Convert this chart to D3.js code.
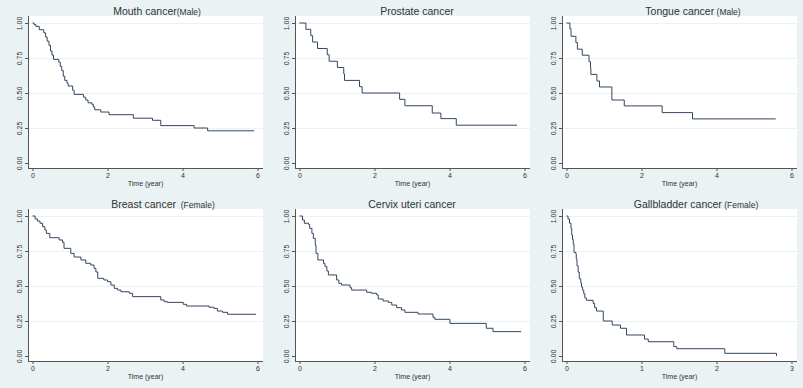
<!DOCTYPE html>
<html>
<head>
<meta charset="utf-8">
<script src="https://cdn.jsdelivr.net/npm/d3@7"></script>
<style>
  body { margin: 0; background: #eaf2f3; }
  svg { display: block; font-family: "Liberation Sans", Arial, sans-serif; }
</style>
</head>
<body>
<div id="container"></div>
<script>
// panel titles: main part + smaller note
const titles = ["Mouth cancer", "Prostate cancer", "Tongue cancer", "Breast cancer", "Cervix uteri cancer", "Gallbladder cancer"];
const notes = ["(Male)", "", " (Male)", "  (Female)", "", " (Female)"];
const titleCenters = [157, 150, 159, 163, 145, 162];

// Kaplan-Meier steps: [time, survival after drop]
const mouth = [[0.04,0.988],[0.09,0.976],[0.18,0.952],[0.30,0.93],[0.35,0.90],[0.39,0.87],[0.44,0.84],[0.48,0.80],[0.52,0.77],[0.56,0.74],[0.70,0.72],[0.74,0.69],[0.78,0.66],[0.82,0.62],[0.86,0.59],[0.92,0.57],[0.95,0.55],[1.07,0.52],[1.11,0.49],[1.36,0.47],[1.42,0.45],[1.48,0.43],[1.58,0.42],[1.62,0.40],[1.66,0.38],[1.82,0.364],[2.04,0.345],[2.69,0.32],[3.2,0.305],[3.42,0.267],[4.31,0.25],[4.67,0.23]];
const prostate = [[0.17,0.955],[0.30,0.91],[0.35,0.864],[0.48,0.818],[0.74,0.773],[0.79,0.727],[1.01,0.682],[1.18,0.636],[1.20,0.59],[1.60,0.545],[1.67,0.50],[2.67,0.455],[2.81,0.409],[3.54,0.357],[3.77,0.317],[4.18,0.27]];
const tongue = [[0.09,0.96],[0.12,0.905],[0.25,0.86],[0.29,0.813],[0.42,0.77],[0.60,0.723],[0.64,0.675],[0.65,0.633],[0.81,0.586],[0.88,0.543],[1.21,0.45],[1.54,0.408],[2.55,0.36],[3.36,0.315]];
const breast = [[0.07,0.979],[0.13,0.964],[0.20,0.948],[0.27,0.924],[0.33,0.90],[0.37,0.876],[0.46,0.845],[0.71,0.829],[0.80,0.812],[0.84,0.769],[1.02,0.733],[1.11,0.707],[1.29,0.686],[1.42,0.662],[1.55,0.65],[1.64,0.626],[1.69,0.60],[1.74,0.555],[1.90,0.543],[2.00,0.531],[2.09,0.507],[2.18,0.483],[2.27,0.471],[2.36,0.459],[2.58,0.448],[2.67,0.424],[3.42,0.40],[3.51,0.388],[3.60,0.383],[4.02,0.369],[4.11,0.357],[4.71,0.348],[4.84,0.340],[4.93,0.321],[5.07,0.312],[5.20,0.298]];
const cervix = [[0.08,0.971],[0.13,0.948],[0.24,0.94],[0.27,0.912],[0.33,0.876],[0.37,0.84],[0.42,0.793],[0.44,0.733],[0.49,0.686],[0.64,0.662],[0.68,0.638],[0.73,0.607],[0.77,0.579],[0.99,0.543],[1.05,0.519],[1.12,0.507],[1.35,0.488],[1.39,0.471],[1.79,0.455],[1.92,0.448],[2.06,0.436],[2.10,0.407],[2.23,0.393],[2.37,0.383],[2.46,0.364],[2.59,0.345],[2.72,0.329],[2.81,0.312],[3.16,0.30],[3.56,0.276],[3.61,0.262],[4.01,0.233],[4.98,0.198],[5.16,0.174]];
const gallbladder = [[0.02,0.979],[0.04,0.948],[0.06,0.912],[0.07,0.864],[0.08,0.833],[0.09,0.80],[0.10,0.74],[0.125,0.729],[0.13,0.693],[0.14,0.645],[0.155,0.60],[0.17,0.552],[0.19,0.524],[0.20,0.493],[0.215,0.469],[0.23,0.445],[0.245,0.414],[0.265,0.398],[0.355,0.376],[0.375,0.345],[0.40,0.321],[0.49,0.25],[0.61,0.221],[0.72,0.198],[0.80,0.15],[1.04,0.121],[1.09,0.102],[1.43,0.067],[1.47,0.052],[2.11,0.019],[2.80,0.0]];

const series = [mouth, prostate, tongue, breast, cervix, gallbladder];
const lastTimes = [5.91, 5.80, 5.58, 5.96, 5.91, 2.80];
const xMax = [6, 6, 6, 6, 6, 3];
const xTicks = [[0,2,4,6],[0,2,4,6],[0,2,4,6],[0,2,4,6],[0,2,4,6],[0,1,2,3]];
const yTicks = [0, 0.25, 0.5, 0.75, 1];

const W = 803, H = 388;
const colW = 267, rowH = 193;
const pLeft = 28, pRight = 263, pTop = 16, pBottom = 168;
const lineColor = "#34465f";

const svg = d3.select("#container")
  .append("svg")
  .attr("width", W)
  .attr("height", H);

svg.append("rect").attr("width", W).attr("height", H).attr("fill", "#eaf2f3");

series.forEach((data, i) => {
  const col = i % 3, row = Math.floor(i / 3);
  const g = svg.append("g")
    .attr("transform", "translate(" + (col * colW) + "," + (row * rowH) + ")");

  const xScale = d3.scaleLinear().domain([0, xMax[i]]).range([32.5, 257.5]);
  const yScale = d3.scaleLinear().domain([0, 1]).range([163, 23]);

  // plot region
  g.append("rect")
    .attr("x", pLeft).attr("y", pTop)
    .attr("width", pRight - pLeft).attr("height", pBottom - pTop)
    .attr("fill", "#fff");

  // grid lines
  g.selectAll("line.grid")
    .data(yTicks.filter(d => d > 0))
    .enter()
    .append("line")
    .attr("x1", pLeft).attr("x2", pRight)
    .attr("y1", d => yScale(d) + 0.5).attr("y2", d => yScale(d) + 0.5)
    .attr("stroke", "#eaf2f3")
    .attr("stroke-width", 1);

  // axes
  const yAxis = d3.axisLeft(yScale)
    .tickValues(yTicks)
    .tickSize(3)
    .tickPadding(3)
    .tickFormat(d3.format(".2f"));
  const xAxis = d3.axisBottom(xScale)
    .tickValues(xTicks[i])
    .tickSize(3)
    .tickPadding(2)
    .tickFormat(d3.format("d"));

  const ya = g.append("g")
    .attr("transform", "translate(" + pLeft + ",0)")
    .call(yAxis);
  ya.select(".domain").attr("d", "M0.5," + pTop + "V" + pBottom);
  ya.selectAll(".tick text")
    .attr("transform", "rotate(-90)")
    .attr("x", 0).attr("y", -6)
    .attr("dy", 0)
    .attr("text-anchor", "middle");

  const xa = g.append("g")
    .attr("transform", "translate(0," + pBottom + ")")
    .call(xAxis);
  xa.select(".domain").attr("d", "M" + pLeft + ",0.5H" + pRight);

  [ya, xa].forEach(a => {
    a.selectAll(".domain, .tick line").attr("stroke", "#555");
    a.selectAll(".tick text").attr("fill", "#333").attr("font-size", 7);
    a.attr("font-family", null);
  });

  // KM step curve
  const pts = [[0, 1]].concat(data);
  const lastS = pts[pts.length - 1][1];
  const line = d3.line()
    .x(d => xScale(d[0]))
    .y(d => yScale(d[1]))
    .curve(d3.curveStepAfter);
  const drawPts = pts.slice();
  if (lastTimes[i] > pts[pts.length - 1][0]) drawPts.push([lastTimes[i], lastS]);
  g.append("path")
    .datum(drawPts)
    .attr("d", line)
    .attr("fill", "none")
    .attr("stroke", lineColor)
    .attr("stroke-width", 1);

  // title
  const t = g.append("text")
    .attr("x", titleCenters[i])
    .attr("y", 15)
    .attr("text-anchor", "middle")
    .attr("fill", "#333")
    .style("white-space", "pre");
  t.append("tspan").attr("font-size", 10.5).text(titles[i]);
  if (notes[i]) t.append("tspan").attr("font-size", 8.5).text(notes[i]);

  // x title
  g.append("text")
    .attr("x", (pLeft + pRight) / 2)
    .attr("y", 186)
    .attr("text-anchor", "middle")
    .attr("font-size", 7)
    .attr("fill", "#333")
    .text("Time (year)");
});
</script>
</body>
</html>
